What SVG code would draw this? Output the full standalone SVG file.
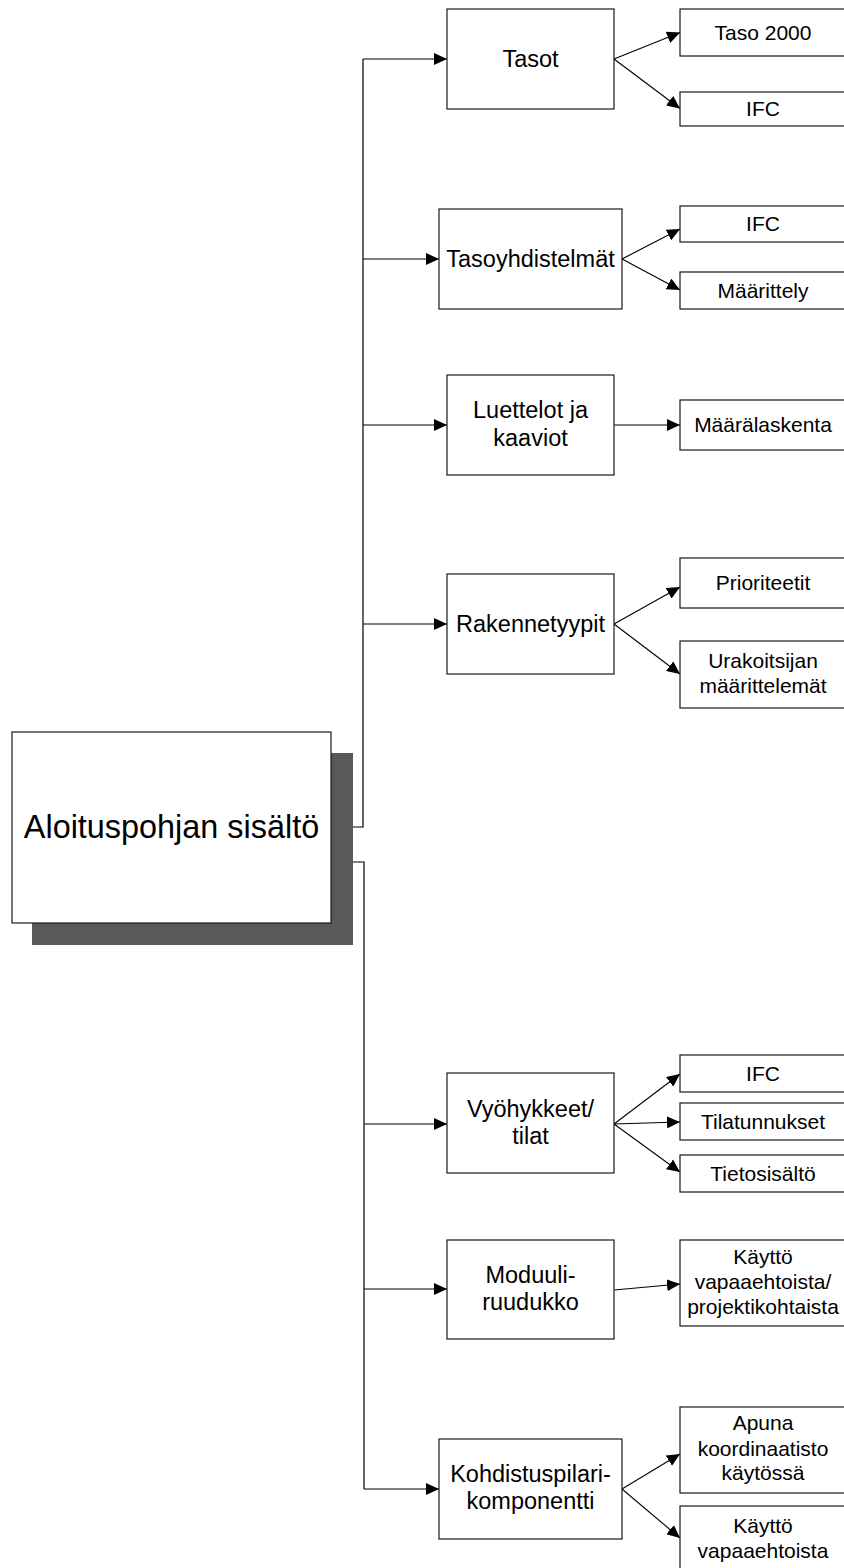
<svg xmlns="http://www.w3.org/2000/svg" width="844" height="1568" viewBox="0 0 844 1568">
<defs>
<marker id="arr" markerUnits="userSpaceOnUse" markerWidth="13" markerHeight="12" refX="13" refY="6" orient="auto">
<path d="M0,0 L13,6 L0,12 z" fill="#000"/>
</marker>
<style>
.box{fill:#fff;stroke:#1a1a1a;stroke-width:1.2}
.t{font-family:"Liberation Sans",Arial,sans-serif;fill:#000;text-anchor:middle}
.m{font-size:23.5px}
.r{font-size:21px}
.c{fill:none;stroke:#000;stroke-width:1.2}
.a{fill:none;stroke:#000;stroke-width:1.1;marker-end:url(#arr)}
</style>
</defs>
<rect width="844" height="1568" fill="#fff"/>

<g id="connectors">
<path class="c" d="M331,827 H363 V59" stroke-width="1.6"/>
<path class="c" d="M331,862 H364 V1489" stroke-width="1.6"/>
<path class="a" d="M363,59 H447"/>
<path class="a" d="M363,259 H439"/>
<path class="a" d="M363,425 H447"/>
<path class="a" d="M363,624 H447"/>
<path class="a" d="M364,1124 H447"/>
<path class="a" d="M364,1289 H447"/>
<path class="a" d="M364,1489 H439"/>
<path class="a" d="M614,59 L680,32.5"/>
<path class="a" d="M614,59 L680,108.5"/>
<path class="a" d="M622,259 L680,229"/>
<path class="a" d="M622,259 L680,290"/>
<path class="a" d="M614,425 L680,425"/>
<path class="a" d="M614,624 L680,587"/>
<path class="a" d="M614,624 L680,674"/>
<path class="a" d="M614,1124 L680,1074"/>
<path class="a" d="M614,1124 L680,1122"/>
<path class="a" d="M614,1124 L680,1172"/>
<path class="a" d="M614,1290 L680,1284"/>
<path class="a" d="M622,1489 L680,1454"/>
<path class="a" d="M622,1489 L680,1538"/>
</g>

<g id="main">
<rect x="32" y="753" width="321" height="192" fill="#595959"/>
<rect class="box" x="12" y="732" width="319" height="191"/>
<text class="t" x="171.5" y="838" font-size="32.4">Aloituspohjan sisältö</text>
</g>

<g id="tasot"><rect class="box" x="447" y="9" width="167" height="100"/><text class="t m" x="530.5" y="67">Tasot</text></g>
<g id="tasoyhdistelmat"><rect class="box" x="439" y="209" width="183" height="100"/><text class="t m" x="530.5" y="267">Tasoyhdistelmät</text></g>
<g id="luettelot"><rect class="box" x="447" y="375" width="167" height="100"/><text class="t m" x="530.5" y="418">Luettelot ja</text><text class="t m" x="530.5" y="446">kaaviot</text></g>
<g id="rakennetyypit"><rect class="box" x="447" y="574" width="167" height="100"/><text class="t m" x="530.5" y="632">Rakennetyypit</text></g>
<g id="vyohykkeet"><rect class="box" x="447" y="1073" width="167" height="100"/><text class="t m" x="530.5" y="1117">Vyöhykkeet/</text><text class="t m" x="530.5" y="1144">tilat</text></g>
<g id="moduuli"><rect class="box" x="447" y="1240" width="167" height="99"/><text class="t m" x="530.5" y="1283">Moduuli-</text><text class="t m" x="530.5" y="1310">ruudukko</text></g>
<g id="kohdistus"><rect class="box" x="439" y="1439" width="183" height="100"/><text class="t m" x="530.5" y="1482">Kohdistuspilari-</text><text class="t m" x="530.5" y="1509">komponentti</text></g>

<g id="taso2000"><rect class="box" x="680" y="9" width="170" height="47"/><text class="t r" x="763" y="39.5">Taso 2000</text></g>
<g id="ifc1"><rect class="box" x="680" y="92" width="170" height="34"/><text class="t r" x="763" y="116">IFC</text></g>
<g id="ifc2"><rect class="box" x="680" y="206" width="170" height="36"/><text class="t r" x="763" y="231">IFC</text></g>
<g id="maarittely"><rect class="box" x="680" y="272" width="170" height="37"/><text class="t r" x="763" y="297.5">Määrittely</text></g>
<g id="maaralaskenta"><rect class="box" x="680" y="400" width="170" height="50"/><text class="t r" x="763" y="432">Määrälaskenta</text></g>
<g id="prioriteetit"><rect class="box" x="680" y="558" width="170" height="50"/><text class="t r" x="763" y="590">Prioriteetit</text></g>
<g id="urakoitsijan"><rect class="box" x="680" y="641" width="170" height="67"/><text class="t r" x="763" y="668">Urakoitsijan</text><text class="t r" x="763" y="693">määrittelemät</text></g>
<g id="ifc3"><rect class="box" x="680" y="1055" width="170" height="37"/><text class="t r" x="763" y="1080.5">IFC</text></g>
<g id="tilatunnukset"><rect class="box" x="680" y="1103" width="170" height="37"/><text class="t r" x="763" y="1128.5">Tilatunnukset</text></g>
<g id="tietosisalto"><rect class="box" x="680" y="1155" width="170" height="37"/><text class="t r" x="763" y="1180.5">Tietosisältö</text></g>
<g id="kaytto1"><rect class="box" x="680" y="1240" width="170" height="86"/><text class="t r" x="763" y="1264">Käyttö</text><text class="t r" x="763" y="1289">vapaaehtoista/</text><text class="t r" x="763" y="1313.5">projektikohtaista</text></g>
<g id="apuna"><rect class="box" x="680" y="1407" width="170" height="86"/><text class="t r" x="763" y="1430">Apuna</text><text class="t r" x="763" y="1456">koordinaatisto</text><text class="t r" x="763" y="1480">käytössä</text></g>
<g id="kaytto2"><rect class="box" x="680" y="1506" width="170" height="80"/><text class="t r" x="763" y="1533">Käyttö</text><text class="t r" x="763" y="1558">vapaaehtoista</text></g>
</svg>
